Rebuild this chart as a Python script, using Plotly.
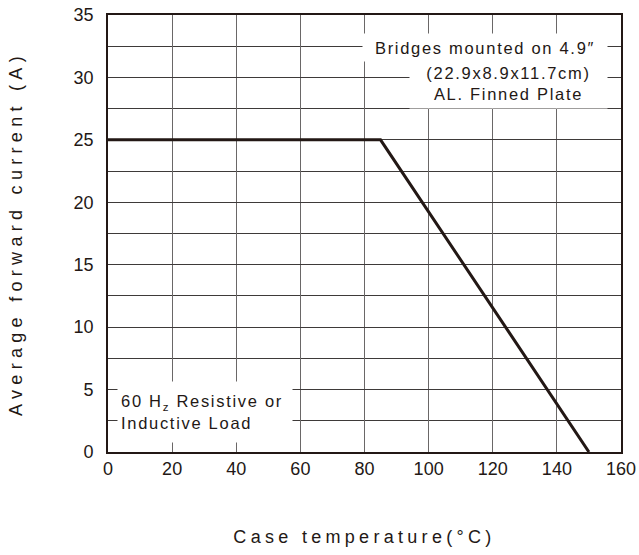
import plotly.graph_objects as go

# Data
temp_c = [0, 85, 150]
current_a = [25, 25, 0]
x_ticks = [0, 20, 40, 60, 80, 100, 120, 140, 160]
y_ticks = [0, 5, 10, 15, 20, 25, 30, 35]

INK = "#231815"
GRID_V = "#6a6767"
GRID_H = "#3e3a39"
FONT = "Arial, Liberation Sans, sans-serif"


def spaced(t, px):
    return f'<span style="letter-spacing:{px}px">{t}</span>'


fig = go.Figure()
fig.add_trace(go.Scatter(x=temp_c, y=current_a, mode="lines",
                         line=dict(color=INK, width=3), showlegend=False,
                         hoverinfo="skip"))

fig.update_layout(
    width=639, height=555,
    margin=dict(l=108, r=18, t=15, b=103),
    paper_bgcolor="white", plot_bgcolor="white",
    font=dict(family=FONT, color=INK, size=18),
)

fig.update_xaxes(
    range=[0, 160], tickvals=x_ticks, ticktext=[str(v) for v in x_ticks],
    showgrid=True, gridcolor=GRID_V, gridwidth=1.3,
    showline=True, linecolor=INK, linewidth=1.6, mirror=True,
    ticks="", ticklabelstandoff=0, zeroline=False, automargin=False,
    tickfont=dict(size=18, family=FONT, color=INK),
    title=dict(text=spaced("Case temperature(°C)", 4.3), standoff=52,
               font=dict(size=18, family=FONT, color=INK)),
)
fig.update_yaxes(
    range=[0, 35], tickvals=y_ticks, ticktext=[str(v) for v in y_ticks],
    showgrid=True, gridcolor=GRID_H, gridwidth=1.3,
    minor=dict(dtick=2.5, showgrid=True, gridcolor=GRID_H, gridwidth=1.3),
    showline=True, linecolor=INK, linewidth=1.6, mirror=True,
    ticks="", ticklabelstandoff=9, zeroline=False, automargin=False,
    tickfont=dict(size=18, family=FONT, color=INK),
    title=dict(text=spaced("Average forward current (A)", 5.3), standoff=46,
               font=dict(size=18, family=FONT, color=INK)),
)

ann_font = dict(size=16.5, family=FONT, color=INK)
fig.add_annotation(x=117.6, y=32.4, xref="x", yref="y", showarrow=False,
                   text=spaced("Bridges mounted on 4.9″", 1.7),
                   bgcolor="white", borderpad=3, width=238, height=21,
                   font=ann_font, align="center")
fig.add_annotation(x=124.9, y=29.55, xref="x", yref="y", showarrow=False,
                   text=spaced("(22.9x8.9x11.7cm)", 1.7) + "<br>" + spaced("AL. Finned Plate", 1.7),
                   bgcolor="white", borderpad=4, width=189, height=41,
                   font=ann_font, align="center")
fig.add_annotation(x=30.3, y=3.2, xref="x", yref="y", showarrow=False,
                   text=spaced("60 H<sub>z</sub> Resistive or", 1.7) + "<br>" + spaced("Inductive Load", 1.7),
                   bgcolor="white", borderpad=3, width=168, height=54,
                   font=ann_font, align="left")

# remove the browser's default 8px body margin so the figure sits at the window origin
fig.write_html("out.html", config={"displayModeBar": False},
               post_script="document.body.style.margin='0';")
